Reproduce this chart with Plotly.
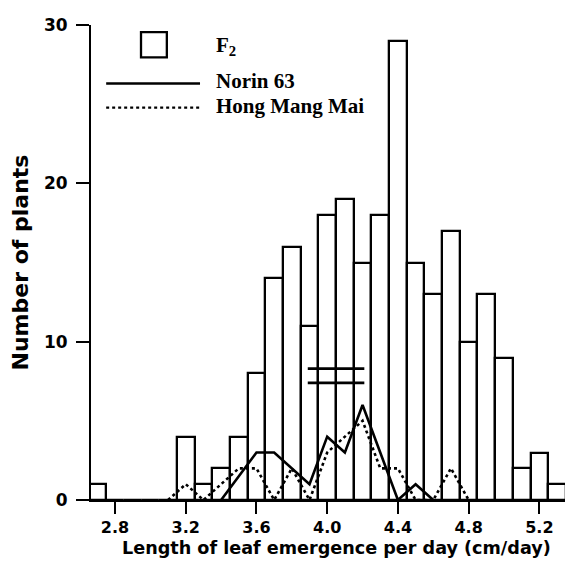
import plotly.graph_objects as go

# ---- data ----
bin_centers = [2.7, 2.8, 2.9, 3.0, 3.1, 3.2, 3.3, 3.4, 3.5, 3.6, 3.7, 3.8, 3.9, 4.0,
               4.1, 4.2, 4.3, 4.4, 4.5, 4.6, 4.7, 4.8, 4.9, 5.0, 5.1, 5.2, 5.3]
f2_counts = [1, 0, 0, 0, 0, 4, 1, 2, 4, 8, 14, 16, 11, 18,
             19, 15, 18, 29, 15, 13, 17, 10, 13, 9, 2, 3, 1]

norin_x = [3.4, 3.5, 3.6, 3.7, 3.8, 3.9, 4.0, 4.1, 4.2, 4.3, 4.4, 4.5, 4.6]
norin_y = [0, 1.5, 3, 3, 2, 1, 4, 3, 6, 3, 0, 1, 0]

hmm_x = [3.1, 3.2, 3.3, 3.4, 3.5, 3.6, 3.7, 3.8, 3.9, 4.0, 4.1, 4.2, 4.3, 4.4, 4.5, 4.6, 4.7, 4.8]
hmm_y = [0, 1, 0, 1, 2, 2, 0, 2, 0, 3, 4, 5, 2, 2, 0, 0, 2, 0]

# parent mean bars (the "=" marks)
mean_x = [[3.89, 4.21], [3.89, 4.21]]
mean_y = [8.3, 7.4]

x_ticks = [2.8, 3.2, 3.6, 4.0, 4.4, 4.8, 5.2]
y_ticks = [0, 10, 20, 30]

fig = go.Figure()

fig.add_trace(go.Bar(
    x=bin_centers, y=f2_counts, width=0.1,
    marker=dict(color="white", line=dict(color="black", width=2.3)),
    showlegend=False, hoverinfo="skip"))

fig.add_trace(go.Scatter(
    x=norin_x, y=norin_y, mode="lines",
    line=dict(color="black", width=2.6), showlegend=False))

fig.add_trace(go.Scatter(
    x=hmm_x, y=hmm_y, mode="lines",
    line=dict(color="black", width=2.6, dash="dot"), showlegend=False))

for mx, my in zip(mean_x, mean_y):
    fig.add_trace(go.Scatter(
        x=mx, y=[my, my], mode="lines",
        line=dict(color="black", width=2.6), showlegend=False))

# ---- manual legend ----
fig.add_shape(type="rect", xref="paper", yref="paper",
              x0=0.1055, x1=0.160, y0=0.932, y1=0.985,
              line=dict(color="black", width=2.3), fillcolor="white")
fig.add_shape(type="line", xref="paper", yref="paper",
              x0=0.032, x1=0.230, y0=0.877, y1=0.877,
              line=dict(color="black", width=2.4))
fig.add_shape(type="line", xref="paper", yref="paper",
              x0=0.032, x1=0.230, y0=0.826, y1=0.826,
              line=dict(color="black", width=2.4, dash="dot"))

legend_font = dict(family="Liberation Serif", size=21, color="black")
for txt, yy in [("<b>F<sub>2</sub></b>", 0.955), ("<b>Norin 63</b>", 0.882), ("<b>Hong Mang Mai</b>", 0.829)]:
    fig.add_annotation(text=txt, xref="paper", yref="paper", x=0.26, y=yy,
                       xanchor="left", yanchor="middle", showarrow=False,
                       font=legend_font)

# x-axis title
fig.add_annotation(text="<b>Length of leaf emergence per day (cm/day)</b>",
                   xref="paper", yref="paper", x=0.517, y=-0.10,
                   xanchor="center", yanchor="middle", showarrow=False,
                   font=dict(family="DejaVu Sans", size=17.6, color="black"))

fig.update_layout(
    width=565, height=565,
    margin=dict(l=91, r=0, t=25, b=65),
    plot_bgcolor="white", paper_bgcolor="white",
    bargap=0,
    font=dict(family="DejaVu Sans", color="black"),
    xaxis=dict(
        range=[2.664, 5.345], tickvals=x_ticks,
        ticktext=[f"{v:.1f}" for v in x_ticks],
        showgrid=False, zeroline=False,
        showline=True, linecolor="black", linewidth=2,
        ticks="outside", ticklen=12, tickwidth=2, tickcolor="black",
        tickfont=dict(family="DejaVu Sans", size=16, color="black", weight="bold"),
    ),
    yaxis=dict(
        range=[0, 30], tickvals=y_ticks,
        showgrid=False, zeroline=False,
        showline=True, linecolor="black", linewidth=2,
        ticks="outside", ticklen=13, tickwidth=2, tickcolor="black",
        ticklabelstandoff=5,
        tickfont=dict(family="DejaVu Sans", size=17, color="black", weight="bold"),
        title=dict(text="<b>Number of plants</b>",
                   font=dict(family="DejaVu Sans", size=22, color="black"),
                   standoff=9),
    ),
)

fig.write_html("out.html")
